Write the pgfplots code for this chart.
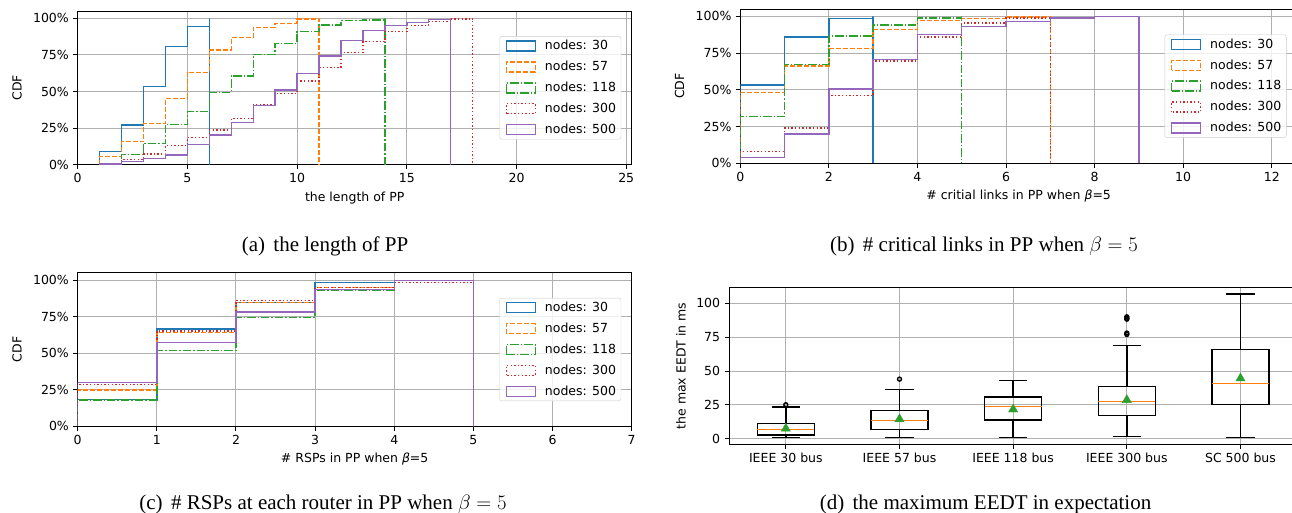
\documentclass[border=0pt]{standalone}
\usepackage{fontspec}
\setmainfont{DejaVu Sans}
\newfontfamily\capfont{Liberation Serif}
\usepackage{pgfplots}
\pgfplotsset{compat=1.18}
\usepgfplotslibrary{statistics}

\definecolor{c0}{HTML}{1F77B4}
\definecolor{c1}{HTML}{FF7F0E}
\definecolor{c2}{HTML}{2CA02C}
\definecolor{c3}{HTML}{D62728}
\definecolor{c4}{HTML}{9467BD}
\definecolor{gridc}{HTML}{B0B0B0}

\pgfplotsset{
  base/.style={
    scale only axis,
    axis line style={black, line width=1pt},
    grid=major, grid style={gridc, line width=1pt},
    tick align=outside, tick pos=left, major tick length=4.5pt,
    tick style={black, line width=1pt},
    /pgf/number format/assume math mode=true,
    ticklabel style={font=\fontsize{12.5}{15}\selectfont},
    label style={font=\fontsize{12.5}{15}\selectfont},
  },
  cdf/.style={
    base,
    ymin=0, ymax=105,
    ytick={0,25,50,75,100},
    yticklabels={0\%,25\%,50\%,75\%,100\%},
    ylabel={CDF},
    every axis y label/.style={at={(axis description cs:0,0.5)}, xshift=-60.7pt, rotate=90, anchor=center},
    every axis x label/.style={at={(axis description cs:0.5,0)}, yshift=-33pt, anchor=center},
    legend style={at={(1,0.5)}, anchor=east, xshift=-10.5pt,
      draw=black!20, rounded corners=2.5pt, fill=white, fill opacity=0.8, text opacity=1,
      font=\fontsize{12.5}{15}\selectfont, row sep=5.5pt, inner xsep=3pt, inner ysep=2pt},
    legend cell align=left,
    legend image code/.code={%
      \path (-3pt,0pt) (36pt,0pt);
      \draw[##1, fill=none, sharp corners] (0pt,-5pt) rectangle (29pt,5pt);},
  },
  n30/.style={c0, line width=1.4pt, const plot},
  n57/.style={c1, line width=1.4pt, const plot, dash pattern=on 5pt off 2pt},
  n118/.style={c2, line width=1.4pt, const plot, dash pattern=on 8.5pt off 2pt on 1.4pt off 2pt},
  n300/.style={c3, line width=1.4pt, const plot, dash pattern=on 1.4pt off 2.2pt},
  n500/.style={c4, line width=1.4pt, const plot},
  box/.style={black, line width=1.4pt, mark=o, mark size=2pt},
}

\newcommand{\nodeslegend}{\legend{nodes: 30, nodes: 57, nodes: 118, nodes: 300, nodes: 500\hspace{12pt}}}

\begin{document}
\fontsize{12.5}{15}\selectfont
\begin{tikzpicture}
\useasboundingbox (0,0) rectangle (1292pt,-512pt);

% (a) length of PP
\begin{axis}[cdf, at={(77.7pt,-164.7pt)}, anchor=south west,
  width=554pt, height=153.7pt,
  xmin=0, xmax=25.25, xtick={0,5,...,25},
  xlabel={the length of PP}]
\addplot[n30] coordinates {(1,0)(1,9)(2,27)(3,53.5)(4,80.6)(5,94.3)(6,100)(6,0)};
\addplot[n57] coordinates {(1,0)(1,5.7)(2,15.7)(3,28.2)(4,45.3)(5,63.1)(6,78.4)(7,86.8)(8,93.8)(9,96.6)(10,99.5)(11,100)(11,0)};
\addplot[n118] coordinates {(1,0)(1,0.7)(2,7)(3,14.6)(4,27.6)(5,36.2)(6,49.4)(7,60.6)(8,75.4)(9,82.9)(10,90.9)(11,95.4)(12,98.4)(13,98.8)(14,100)(14,0)};
\addplot[n300] coordinates {(1,0)(1,0.8)(2,3.6)(3,7.3)(4,13)(5,18.5)(6,23.7)(7,31.7)(8,40.8)(9,48.7)(10,57.2)(11,66.3)(12,76.8)(13,84)(14,91)(15,95)(16,97.7)(17,99.5)(18,100)(18,0)};
\addplot[n500] coordinates {(1,0)(1,0.4)(2,2.3)(3,4.3)(4,6.6)(5,13.9)(6,20.3)(7,28.7)(8,40.5)(9,51)(10,62.4)(11,74.3)(12,84.7)(13,91.6)(14,95.2)(15,97.3)(16,99.3)(17,100)(17,0)};
\nodeslegend
\end{axis}

% (b) critical links
\begin{axis}[cdf, at={(740.3pt,-163.3pt)}, anchor=south west,
  width=556.7pt, height=154.3pt,
  xmin=0, xmax=12.57, xtick={0,2,...,12},
  xlabel={\# critial links in PP when {\itshape β}=5}]
\addplot[n30] coordinates {(0,0)(0,53.2)(1,86)(2,98.4)(3,100)(3,0)};
\addplot[n57] coordinates {(0,0)(0,48)(1,66.3)(2,78)(3,91)(4,97)(5,98.4)(6,99.5)(7,100)(7,0)};
\addplot[n118] coordinates {(0,0)(0,31.7)(1,67.4)(2,86.7)(3,94)(4,98.9)(5,100)(5,0)};
\addplot[n300] coordinates {(0,0)(0,8)(1,24)(2,46)(3,69.7)(4,86)(5,95.5)(6,98.9)(7,100)(7,0)};
\addplot[n500] coordinates {(0,0)(0,3.8)(1,20)(2,50.7)(3,70.6)(4,87.6)(5,93.2)(6,96.4)(7,98.9)(8,99.8)(9,100)(9,0)};
\nodeslegend
\end{axis}

% (c) RSPs
\begin{axis}[cdf, at={(77.7pt,-426.3pt)}, anchor=south west,
  width=554pt, height=153.6pt,
  xmin=0, xmax=7, xtick={0,1,...,7},
  xlabel={\# RSPs in PP when {\itshape β}=5}]
\addplot[n30] coordinates {(0,0)(0,18.5)(1,66.5)(2,84.7)(3,98.2)(4,99.5)(5,100)(5,0)};
\addplot[n57] coordinates {(0,0)(0,24.8)(1,64)(2,84.5)(3,94.8)(4,99.5)(5,100)(5,0)};
\addplot[n118] coordinates {(0,0)(0,18)(1,51.7)(2,74.3)(3,93.2)(4,99.8)(5,100)(5,0)};
\addplot[n300] coordinates {(0,0)(0,28.5)(1,65.1)(2,86)(3,95)(4,98.2)(5,100)(5,0)};
\addplot[n500] coordinates {(0,0)(0,30)(1,57.4)(2,78.1)(3,93.6)(4,99.8)(5,100)(5,0)};
\nodeslegend
\end{axis}

% (d) max EEDT boxplot
\begin{axis}[base, at={(729pt,-444.3pt)}, anchor=south west,
  width=568.3pt, height=156.6pt,
  xmin=0.5, xmax=5.5, ymin=-4.1, ymax=111.5,
  xtick={1,2,3,4,5},
  xticklabels={IEEE 30 bus, IEEE 57 bus, IEEE 118 bus, IEEE 300 bus, SC 500 bus},
  ytick={0,25,50,75,100},
  ylabel={the max EEDT in ms},
  every axis y label/.style={at={(axis description cs:0,0.5)}, xshift=-48pt, rotate=90, anchor=center},
  boxplot/draw direction=y,
  boxplot/box extend=0.5, boxplot/whisker extend=0.25,
  boxplot/every median/.style={draw=c1, line width=1.4pt},
  ]
\addplot[box, boxplot prepared={draw position=1, lower whisker=0.8, lower quartile=2.7, median=6.9, upper quartile=11.1, upper whisker=23.4}]
  coordinates {(1,25.1)};
\addplot[box, boxplot prepared={draw position=2, lower whisker=0.8, lower quartile=6.9, median=13.6, upper quartile=20.7, upper whisker=36.2}]
  coordinates {(2,44)};
\addplot[box, boxplot prepared={draw position=3, lower whisker=0.8, lower quartile=13.8, median=23.9, upper quartile=30.8, upper whisker=42.8}]
  coordinates {};
\addplot[box, boxplot prepared={draw position=4, lower whisker=1.5, lower quartile=17.3, median=27.6, upper quartile=38.4, upper whisker=69}]
  coordinates {(4,90)(4,89)(4,88.3)(4,78)(4,77)};
\addplot[box, boxplot prepared={draw position=5, lower whisker=0.8, lower quartile=25.4, median=40.9, upper quartile=66, upper whisker=106.9}]
  coordinates {};
% means
\addplot[only marks, mark=triangle*, mark size=5.3pt, color=c2]
  coordinates {(1,7.5)(2,14.5)(3,21.7)(4,28.6)(5,44.6)};
\end{axis}

% sub-captions
\begin{scope}[every node/.style={font=\capfont\fontsize{21}{25}\selectfont, anchor=base, inner sep=0pt}]
\node at (325pt,-251pt) {(a)\hspace{0.4em}the length of PP};
\node at (984pt,-251pt) {(b)\hspace{0.4em}\# critical links in PP when $\beta = 5$};
\node at (323pt,-509.5pt) {(c)\hspace{0.4em}\# RSPs at each router in PP when $\beta = 5$};
\node at (985.5pt,-509.5pt) {(d)\hspace{0.4em}the maximum EEDT in expectation};
\end{scope}
\end{tikzpicture}
\end{document}
